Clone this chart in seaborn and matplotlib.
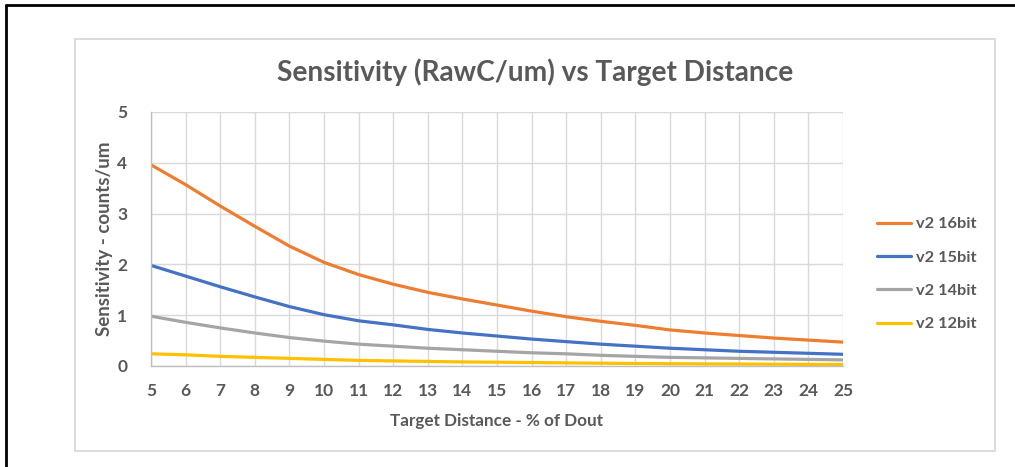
import numpy as np
import pandas as pd
import matplotlib
matplotlib.use("Agg")
import matplotlib.pyplot as plt
from matplotlib.lines import Line2D
from matplotlib.patches import Rectangle
from matplotlib.ticker import MultipleLocator
import seaborn as sns

# ---------------------------------------------------------------
# data
# ---------------------------------------------------------------
distance = list(range(5, 26))
v2_16bit = [3.96, 3.57, 3.15, 2.75, 2.36, 2.04, 1.80, 1.61, 1.45, 1.32, 1.20,
            1.08, 0.97, 0.88, 0.80, 0.71, 0.65, 0.60, 0.55, 0.51, 0.47]
v2_15bit = [1.98, 1.77, 1.56, 1.36, 1.17, 1.01, 0.89, 0.81, 0.72, 0.65, 0.59,
            0.53, 0.48, 0.43, 0.39, 0.35, 0.32, 0.29, 0.27, 0.25, 0.23]
v2_14bit = [0.98, 0.86, 0.75, 0.65, 0.56, 0.49, 0.43, 0.39, 0.35, 0.32, 0.29,
            0.26, 0.24, 0.21, 0.19, 0.17, 0.16, 0.15, 0.14, 0.13, 0.12]
v2_12bit = [0.24, 0.22, 0.19, 0.17, 0.15, 0.13, 0.11, 0.10, 0.09, 0.08, 0.075,
            0.068, 0.061, 0.055, 0.050, 0.045, 0.041, 0.038, 0.035, 0.032, 0.030]
series_names = ["v2 16bit", "v2 15bit", "v2 14bit", "v2 12bit"]
series_vals = [v2_16bit, v2_15bit, v2_14bit, v2_12bit]
colors = ["#ED7D31", "#4472C4", "#A5A5A5", "#FFC000"]

df = pd.concat(
    [pd.DataFrame({"distance": distance, "sens": vals, "series": name})
     for name, vals in zip(series_names, series_vals)],
    ignore_index=True,
)

sns.set_style("white")
plt.rcParams["font.family"] = ["Lato", "DejaVu Sans"]
TXT = "#595959"
GRID = "#d9d9d9"

W, H = 1015, 467
fig = plt.figure(figsize=(W / 100, H / 100), dpi=100)
ax = fig.add_axes([151 / W, 1 - 366 / H, (843 - 151) / W, (366 - 112) / H])

sns.lineplot(data=df, x="distance", y="sens", hue="series",
             palette=colors, hue_order=series_names,
             linewidth=2.3, ax=ax, legend=True)

ax.set_xlim(5, 25)
ax.set_ylim(0, 5)
ax.set_xticks(distance)
ax.set_yticks(range(6))
ax.yaxis.set_minor_locator(MultipleLocator(0.2))
ax.grid(True, which="major", color=GRID, linewidth=1.0)
ax.set_axisbelow(True)

for s in ["top", "right"]:
    ax.spines[s].set_visible(False)
for s in ["left", "bottom"]:
    ax.spines[s].set_color("#bfbfbf")
    ax.spines[s].set_linewidth(1.0)

ax.tick_params(axis="x", length=0, pad=12, labelsize=12.5, labelcolor=TXT)
ax.tick_params(axis="y", which="major", length=6, direction="out",
               color="#bfbfbf", pad=11, labelsize=12.5, labelcolor=TXT)
ax.tick_params(axis="y", which="minor", length=4, direction="in",
               color="#bfbfbf")
for lab in ax.get_xticklabels() + ax.get_yticklabels():
    lab.set_fontweight("bold")

ax.set_xlabel("Target Distance - % of Dout", fontsize=12.3, fontweight="bold",
              color=TXT, labelpad=10)
ax.set_ylabel("Sensitivity - counts/um", fontsize=13.5, fontweight="bold",
              color=TXT, labelpad=3)

fig.text(535 / W, 1 - 72 / H, "Sensitivity (RawC/um) vs Target Distance",
         ha="center", va="center", fontsize=20.2, fontweight="bold", color=TXT)

handles, labels = ax.get_legend_handles_labels()
leg = ax.legend(handles, labels, loc="upper left",
                bbox_to_anchor=(877 / W, 1 - 217 / H),
                bbox_transform=fig.transFigure, frameon=False,
                borderpad=0, borderaxespad=0, handlelength=2.1,
                handletextpad=0.25, labelspacing=1.15,
                prop={"weight": "bold", "size": 11.8})
for t in leg.get_texts():
    t.set_color(TXT)
for h in leg.get_lines():
    h.set_linewidth(2.3)

# chart frame and outer black border
fig.add_artist(Rectangle((75 / W, 1 - 451 / H), (995 - 75) / W, (451 - 39) / H,
                         transform=fig.transFigure, fill=False,
                         edgecolor=GRID, linewidth=1.3))
fig.add_artist(Line2D([6 / W, 6 / W], [0, 1 - 4.5 / H],
                      transform=fig.transFigure, color="black", linewidth=2))
fig.add_artist(Line2D([6 / W, 1], [1 - 4.5 / H, 1 - 4.5 / H],
                      transform=fig.transFigure, color="black", linewidth=2))

fig.savefig("out.png", dpi=100)
